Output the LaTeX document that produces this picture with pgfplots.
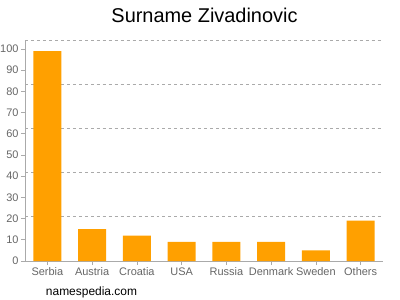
\documentclass[border=0pt]{standalone}
\usepackage{pgfplots}
\pgfplotsset{compat=1.18}
\usepackage{fontspec}
\setmainfont{Liberation Sans}
\definecolor{barc}{HTML}{FFA000}
\definecolor{tk}{HTML}{666666}
\definecolor{ax}{HTML}{AAAAAA}
\begin{document}
\begin{tikzpicture}[x=1bp,y=1bp]
\path[use as bounding box] (0,0) rectangle (400,300);
\begin{axis}[
  at={(25bp,39bp)}, anchor=south west,
  scale only axis, width=358bp, height=221bp,
  xmin=-0.5, xmax=7.5, ymin=0, ymax=104.2,
  axis x line*=bottom, axis y line*=left,
  axis line style={ax, line width=0.8bp},
  xtick=data,
  xticklabels={Serbia,Austria,Croatia,USA,Russia,Denmark,Sweden,Others},
  ytick={0,10,...,100},
  extra y ticks={20.84,41.68,62.52,83.36,104.2},
  extra y tick labels={},
  extra y tick style={grid=major, tick style={draw=none}, grid style={dashed, ax, line width=0.7bp}},
  major tick length=4bp,
  tick style={ax, line width=0.6bp},
  tick align=outside,
  ticklabel style={font=\fontsize{11}{12}\selectfont, text=tk},
  /pgf/number format/assume math mode=true,
  yticklabel style={xshift=1bp},
  xticklabel style={yshift=1bp},
  clip=false,
]
\addplot[ybar, bar width=28bp, fill=barc, draw=none] coordinates {
 (0,99) (1,15) (2,12) (3,9) (4,9) (5,9) (6,5) (7,19)
};
\end{axis}
\node at (204.5,285) {\fontsize{20}{24}\selectfont Surname Zivadinovic};
\node at (91.5,8) {\fontsize{12}{14}\selectfont namespedia.com};
\end{tikzpicture}
\end{document}
